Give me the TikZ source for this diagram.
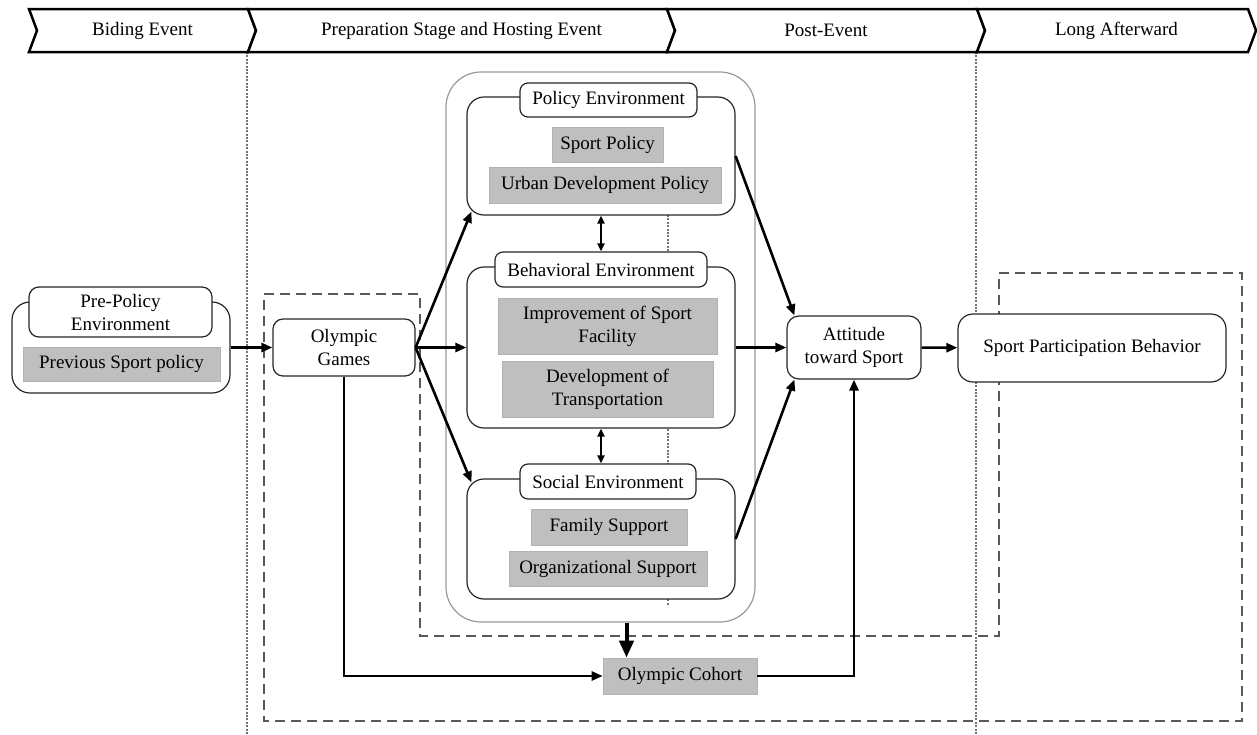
\documentclass[tikz,border=0pt]{standalone}
\usepackage{fontspec}
\setmainfont{Liberation Serif}
\usetikzlibrary{arrows.meta}

\begin{document}
\begin{tikzpicture}[x=1pt,y=-1pt,
        every node/.style={font=\fontsize{19}{23}\selectfont,inner sep=0pt,align=center},
        phasebox/.style={line width=2.5pt,line join=miter,fill=white},
        phaseline/.style={black!55,line width=2.4pt,dash pattern=on 2pt off 1.4pt},
        region/.style={black!65,line width=2.8pt,dash pattern=on 10pt off 6pt},
        rbox/.style={draw=black!85,line width=1.2pt,fill=white,rounded corners=#1},
        rbox/.default=10pt,
        greybox/.style={fill=black!25,draw=black!30,line width=0.6pt},
        arr/.style={line width=2.6pt,-{Triangle[length=11pt,width=9pt]}},
        dbl/.style={line width=2.3pt,{Triangle[length=8pt,width=7pt]}-{Triangle[length=8pt,width=7pt]}},
        bigarr/.style={line width=4pt,-{Triangle[length=17pt,width=14pt]}}]
    \useasboundingbox (0,0) rectangle (1257,734);

    % time line
    \draw[phaseline] (247,52) -- (247,734);
    \draw[phaseline] (976,52) -- (976,734);
    \foreach \a/\b/\txt [count=\i] in {29/248/Biding Event,248/667/Preparation Stage and Hosting Event,
            667/977/Post-Event,977/1248/Long Afterward}{
        \draw[phasebox] (\a,9) -- (\b,9) -- (\b+8,30.5) -- (\b,52) -- (\a,52) -- (\a+8,30.5) -- cycle;
        \node (ph\i) at ({(\a+\b)/2+4},30.5) {\txt};
    }

    % cohort region
    \draw[region] (264,294) -- (420,294) -- (420,636) -- (999,636) -- (999,273)
        -- (1242,273) -- (1242,721) -- (264,721) -- cycle;

    % environments
    \node[rbox=35pt,draw=black!40,minimum width=309pt,minimum height=550pt] (envs) at (600.5,347) {};
    \draw[phaseline] (668,215) -- (668,605);

    \node[rbox=17pt,minimum width=268pt,minimum height=118pt] (policy) at (601,156) {};
    \node[rbox=8pt,minimum width=177pt,minimum height=34pt] (policyhd) at (608.5,100) {Policy Environment};
    \node[greybox,minimum width=111pt,minimum height=35pt] (sportpol) at (607.5,144.5) {Sport Policy};
    \node[greybox,minimum width=232pt,minimum height=36pt] (urbanpol) at (605,185) {Urban Development Policy};

    \node[rbox=17pt,minimum width=268pt,minimum height=161pt] (behav) at (601,347.5) {};
    \node[rbox=8pt,minimum width=212pt,minimum height=35pt] (behavhd) at (601,269.5) {Behavioral Environment};
    \node[greybox,minimum width=219pt,minimum height=56pt] (facility) at (607.5,326) {Improvement of Sport\\Facility};
    \node[greybox,minimum width=211pt,minimum height=56pt] (transport) at (607.5,389) {Development of\\Transportation};

    \node[rbox=17pt,minimum width=268pt,minimum height=120pt] (social) at (601,539) {};
    \node[rbox=8pt,minimum width=176pt,minimum height=35pt] (socialhd) at (608,481.5) {Social Environment};
    \node[greybox,minimum width=156pt,minimum height=36pt] (family) at (609,527) {Family Support};
    \node[greybox,minimum width=198pt,minimum height=35pt] (orgsup) at (608,568.5) {Organizational Support};

    % pre-policy
    \node[rbox=18pt,minimum width=218pt,minimum height=91pt] (prepol) at (121,347.5) {};
    \node[rbox=10pt,minimum width=183pt,minimum height=50pt] (prepolhd) at (120.5,312) {Pre-Policy\\Environment};
    \node[greybox,minimum width=197pt,minimum height=34pt] (prevsport) at (121.5,364) {Previous Sport policy};

    \node[rbox=10pt,minimum width=142pt,minimum height=57pt] (olympic) at (344,347.5) {Olympic\\Games};
    \node[rbox=12pt,minimum width=134pt,minimum height=63pt] (attitude) at (854,347.5) {Attitude\\toward Sport};
    \node[rbox=15pt,minimum width=268pt,minimum height=68pt] (spb) at (1092,348) {Sport Participation Behavior};
    \node[greybox,minimum width=154pt,minimum height=36pt] (cohort) at (680,676) {Olympic Cohort};

    % connectors
    \draw[arr] (prepol) -- (olympic);
    \draw[arr] (olympic.east) -- ([shift={(5,-4)}]policy.south west);
    \draw[arr] (olympic.east) -- (behav.west);
    \draw[arr] (olympic.east) -- ([shift={(5,4)}]social.north west);
    \draw[arr] (policy.east) -- ([xshift=8pt]attitude.north west);
    \draw[arr] (behav.east) -- (attitude.west);
    \draw[arr] (social.east) -- ([xshift=8pt]attitude.south west);
    \draw[arr] (attitude) -- (spb);
    \draw[arr] (olympic.south) |- (cohort.west);
    \draw[arr] (cohort.east) -| (attitude.south);
    \draw[dbl] (policy.south) -- (behavhd.north);
    \draw[dbl] (behav.south) -- (behav.south |- socialhd.north);
    \draw[bigarr] ([xshift=26pt]envs.south) -- ([xshift=26pt]envs.south |- cohort.north);
\end{tikzpicture}
\end{document}
